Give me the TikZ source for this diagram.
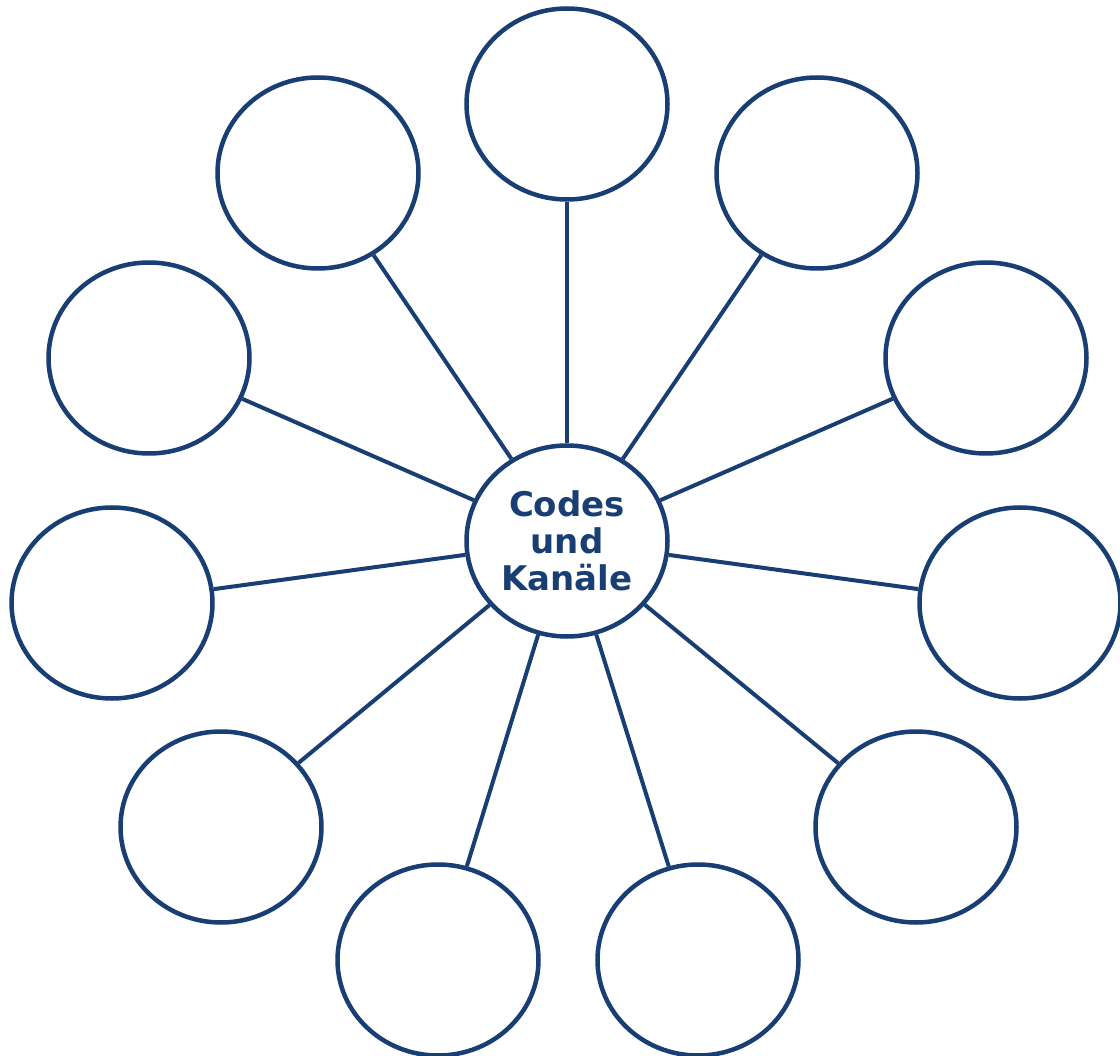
\documentclass[tikz,border=0pt]{standalone}
\usepackage{fontspec}
\setmainfont{DejaVu Sans}
\usetikzlibrary{shapes.geometric}
\definecolor{navy}{RGB}{24,62,115}
\tikzset{
  bubble/.style={ellipse, draw=navy, line width=4.5pt, fill=white, inner sep=0pt,
    minimum width=201pt, minimum height=191pt},
  hub/.style={bubble, text=navy, align=center,
    font=\fontsize{34}{37}\selectfont\bfseries},
  spoke/.style={draw=navy, line width=4pt}
}
\begin{document}
\begin{tikzpicture}[x=1pt,y=-1pt]
\useasboundingbox (0,0) rectangle (1120,1056);
\node[hub] (c) at (567,541) {Codes\\und\\Kanäle};
\node[bubble] (n1) at (567,104) {};
\node[bubble] (n2) at (318,173) {};
\node[bubble] (n3) at (817,173) {};
\node[bubble] (n4) at (149,358) {};
\node[bubble] (n5) at (986,358) {};
\node[bubble] (n6) at (112,603) {};
\node[bubble] (n7) at (1020,603) {};
\node[bubble] (n8) at (221,827) {};
\node[bubble] (n9) at (916,827) {};
\node[bubble] (n10) at (438,960) {};
\node[bubble] (n11) at (698,960) {};
\foreach \n in {n1,n2,n3,n4,n5,n6,n7,n8,n9,n10,n11}
  \draw[spoke] (c) -- (\n);
\end{tikzpicture}
\end{document}
